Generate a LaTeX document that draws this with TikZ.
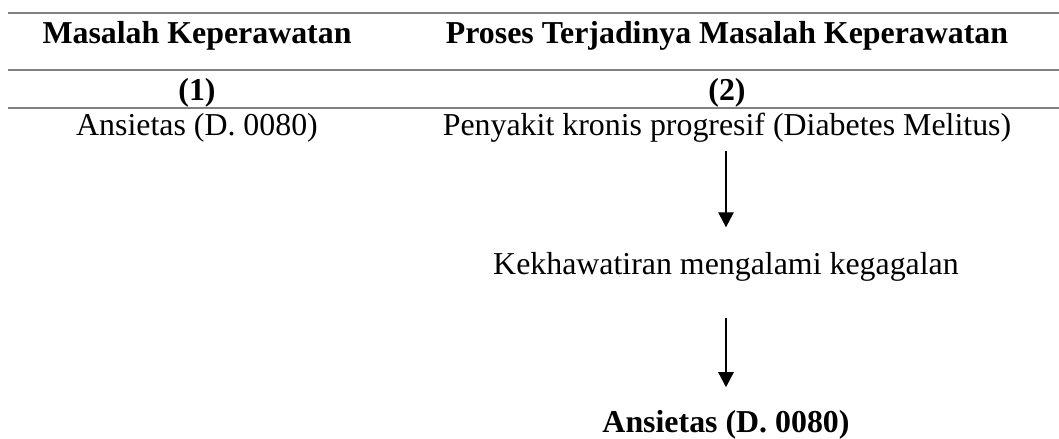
\documentclass[tikz,border=0pt]{standalone}
\usepackage{fontspec}
\setmainfont{Liberation Serif}
\usetikzlibrary{arrows.meta}
\definecolor{rulegray}{RGB}{128,128,128}
\tikzset{
  txt/.style  = {inner sep=0pt, anchor=base, font=\fontsize{15.3}{18}\selectfont,
                 text height=10.7pt, text depth=3.8pt},
  head/.style = {txt, font=\fontsize{15.3}{18}\selectfont\bfseries},
  rule/.style = {draw=rulegray, line width=1pt},
  arr/.style  = {-{Triangle[length=7.2pt, width=7.4pt]}, line width=0.6pt},
}

\begin{document}
\begin{tikzpicture}[x=0.48pt, y=-0.48pt]
  \useasboundingbox (0,0) rectangle (1059,439);

  % table rules
  \draw[rule] (8,13) -- (1059,13);
  \draw[rule] (8,70) -- (1059,70);
  \draw[rule] (8,108) -- (1059,108);

  % header
  \node[head] (h1) at (197,44) {Masalah Keperawatan};
  \node[head] (h2) at (727,44) {Proses Terjadinya Masalah Keperawatan};
  \node[head] (n1) at (197,101) {(1)};
  \node[head] (n2) at (727,101) {(2)};

  % body
  \node[txt] (dx) at (197,136) {Ansietas (D. 0080)};
  \node[txt] (penyakit) at (727,136) {Penyakit kronis progresif (Diabetes Melitus)};
  \node[txt] (khawatir) at (726,275) {Kekhawatiran mengalami kegagalan};
  \node[head] (ansietas) at (726,433) {Ansietas (D. 0080)};

  \draw[arr, shorten <=3pt, shorten >=12pt] (penyakit.south -| khawatir) -- (khawatir.north);
  \draw[arr, shorten <=16.4pt, shorten >=11.1pt] (khawatir.south) -- (ansietas.north);
\end{tikzpicture}
\end{document}
